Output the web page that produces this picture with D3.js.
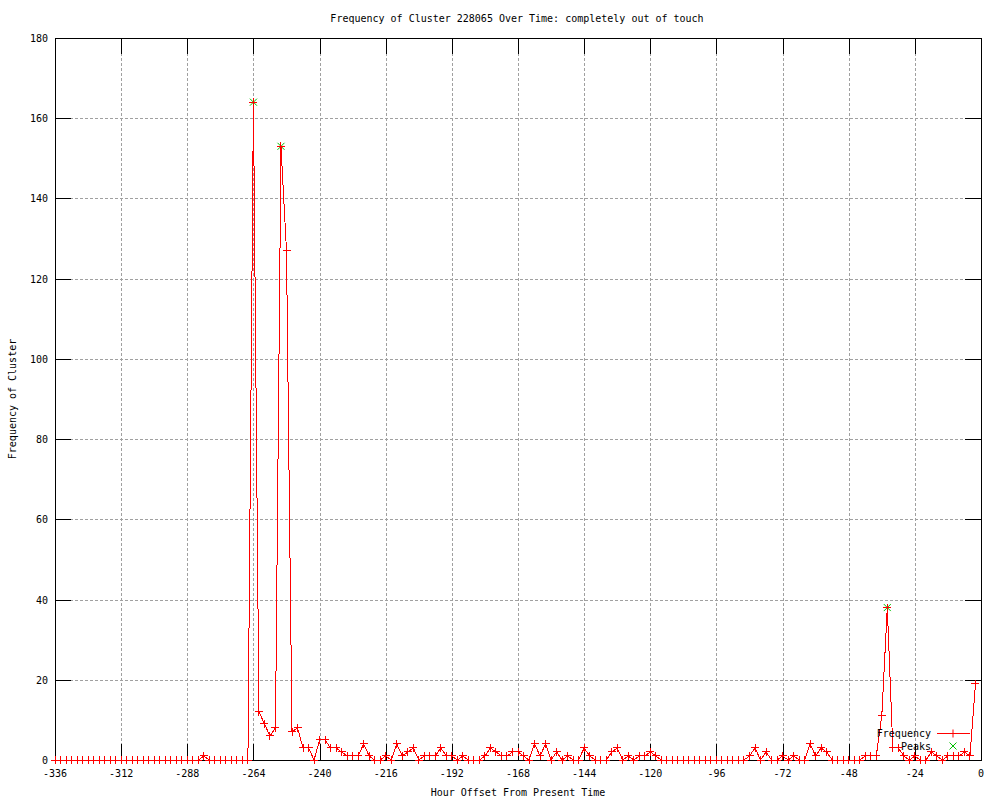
<!DOCTYPE html>
<html>
<head>
<meta charset="utf-8">
<script src="https://cdn.jsdelivr.net/npm/d3@7"></script>
<style>
  body { margin: 0; background: #fff; }
  text { font-family: "DejaVu Sans Mono", monospace; font-size: 10px; fill: #000; }
</style>
</head>
<body>
<svg id="vis1" width="1000" height="800"></svg>
<script>
// hourly offsets (every 2 hours) and cluster frequency
var hours = d3.range(-336, 0, 2);
var freq = [
  0, 0, 0, 0, 0, 0, 0, 0, 0, 0, 0, 0, 0, 0, 0, 0, 0, 0, 0, 0, 0, 0, 0, 0, 0, 0, 0,
  1, 0, 0, 0, 0, 0, 0, 0, 0,
  164, 12, 9, 6, 8, 153, 127, 7, 8, 3, 3, 0, 5, 5, 3, 3, 2, 1, 1, 1, 4, 1, 0, 0, 1, 0,
  4, 1, 2, 3, 0, 1, 1, 1, 3, 1, 1, 0, 1, 0, 0, 0, 1, 3, 2, 1, 1, 2, 2, 1, 0, 4, 1, 4,
  0, 2, 0, 1, 0, 0, 3, 1, 0, 0, 0, 2, 3, 0, 1, 0, 1, 1, 2, 1,
  0, 0, 0, 0, 0, 0, 0, 0, 0, 0, 0, 0, 0, 0, 0, 0,
  1, 3, 0, 2, 0, 0, 1, 0, 1, 0, 0, 4, 1, 3, 2,
  0, 0, 0, 0, 0, 0,
  1, 1, 1, 11, 38, 3, 3, 1, 0, 1, 0, 0, 2, 1, 0, 1, 1, 1, 2, 1, 19
];
var peakHours = [-264, -254, -34];
var peakValues = [164, 153, 38];
var xTicks = d3.range(-336, 1, 24);
var yTicks = d3.range(0, 181, 20);

var data = hours.map(function(h, i) { return {h: h, v: freq[i]}; });
var peaks = peakHours.map(function(h, i) { return {h: h, v: peakValues[i]}; });

var svg1 = d3.select("#vis1"),
    margin = {top: 38, right: 19, bottom: 40, left: 55},
    width = +svg1.attr("width") - margin.left - margin.right,
    height = +svg1.attr("height") - margin.top - margin.bottom,
    g1 = svg1.append("g").attr("transform", "translate(" + margin.left + "," + margin.top + ")");

svg1.insert("rect", ":first-child").attr("width", 1000).attr("height", 800).attr("fill", "#fff");

var x1 = d3.scaleLinear().domain([-336, 0]).range([0, width]);
var y1 = d3.scaleLinear().domain([0, 180]).range([height, 0]);

// grid
var grid = g1.append("g")
    .attr("stroke", "#a0a0a0")
    .attr("stroke-dasharray", "3,2")
    .attr("shape-rendering", "crispEdges");
grid.selectAll(".gx").data(xTicks.slice(1, -1)).enter().append("line")
    .attr("x1", function(d) { return Math.round(x1(d)) + 0.5; })
    .attr("x2", function(d) { return Math.round(x1(d)) + 0.5; })
    .attr("y1", 0).attr("y2", height);
grid.selectAll(".gy").data(yTicks.slice(1, -1)).enter().append("line")
    .attr("y1", function(d) { return Math.round(y1(d)) + 0.5; })
    .attr("y2", function(d) { return Math.round(y1(d)) + 0.5; })
    .attr("x1", 0).attr("x2", width);

// axes (gnuplot style: inward ticks, mirrored)
var tl = 16;
var axes = g1.append("g").attr("stroke", "#000").attr("shape-rendering", "crispEdges");
axes.append("rect").attr("x", 0.5).attr("y", 0.5).attr("width", width).attr("height", height).attr("fill", "none");
xTicks.forEach(function(t) {
  var px = Math.round(x1(t)) + 0.5;
  axes.append("line").attr("x1", px).attr("x2", px).attr("y1", height).attr("y2", height - tl);
  axes.append("line").attr("x1", px).attr("x2", px).attr("y1", 0).attr("y2", tl);
});
yTicks.forEach(function(t) {
  var py = Math.round(y1(t)) + 0.5;
  axes.append("line").attr("y1", py).attr("y2", py).attr("x1", 0).attr("x2", tl);
  axes.append("line").attr("y1", py).attr("y2", py).attr("x1", width).attr("x2", width - tl);
});

g1.selectAll(".xl").data(xTicks).enter().append("text")
    .attr("x", function(d) { return x1(d); })
    .attr("y", height + 17)
    .attr("text-anchor", "middle")
    .text(function(d) { return String(d); });
g1.selectAll(".yl").data(yTicks).enter().append("text")
    .attr("x", -7)
    .attr("y", function(d) { return y1(d) + 4; })
    .attr("text-anchor", "end")
    .text(function(d) { return String(d); });

var ms = 4;
function plus(sel, color) {
  sel.append("line").attr("x1", -ms).attr("x2", ms).attr("y1", 0).attr("y2", 0).attr("stroke", color);
  sel.append("line").attr("y1", -ms).attr("y2", ms).attr("x1", 0).attr("x2", 0).attr("stroke", color);
}
function cross(sel, color) {
  sel.append("line").attr("x1", -ms + 0.5).attr("x2", ms - 0.5).attr("y1", -ms + 0.5).attr("y2", ms - 0.5).attr("stroke", color);
  sel.append("line").attr("x1", -ms + 0.5).attr("x2", ms - 0.5).attr("y1", ms - 0.5).attr("y2", -ms + 0.5).attr("stroke", color);
}

// peaks under the frequency markers
var pk = g1.append("g").selectAll("g").data(peaks).enter().append("g")
    .attr("transform", function(d) { return "translate(" + x1(d.h) + "," + y1(d.v) + ")"; });
cross(pk, "#00c000");

// data line + markers
var line = d3.line().x(function(d) { return x1(d.h); }).y(function(d) { return y1(d.v); });
g1.append("path").datum(data)
    .attr("d", line)
    .attr("fill", "none")
    .attr("stroke", "#ff0000")
    .attr("stroke-width", 1)
    .attr("shape-rendering", "crispEdges");

var pts = g1.append("g").attr("shape-rendering", "crispEdges")
  .selectAll("g").data(data).enter().append("g")
    .attr("transform", function(d) { return "translate(" + x1(d.h) + "," + y1(d.v) + ")"; });
plus(pts, "#ff0000");

// legend
var leg = svg1.append("g");
leg.append("text").attr("x", 931).attr("y", 737).attr("text-anchor", "end").text("Frequency");
leg.append("line").attr("x1", 937).attr("x2", 970).attr("y1", 733.5).attr("y2", 733.5).attr("stroke", "#ff0000");
plus(leg.append("g").attr("transform", "translate(953,733.5)"), "#ff0000");
leg.append("text").attr("x", 931).attr("y", 750).attr("text-anchor", "end").text("Peaks");
cross(leg.append("g").attr("transform", "translate(953,746)"), "#00c000");

// titles
svg1.append("text").attr("x", 517).attr("y", 22).attr("text-anchor", "middle")
    .text("Frequency of Cluster 228065 Over Time: completely out of touch");
svg1.append("text").attr("x", 518).attr("y", 796).attr("text-anchor", "middle")
    .text("Hour Offset From Present Time");
svg1.append("text").attr("transform", "translate(16,399) rotate(-90)").attr("text-anchor", "middle")
    .text("Frequency of Cluster");
</script>
</body>
</html>
